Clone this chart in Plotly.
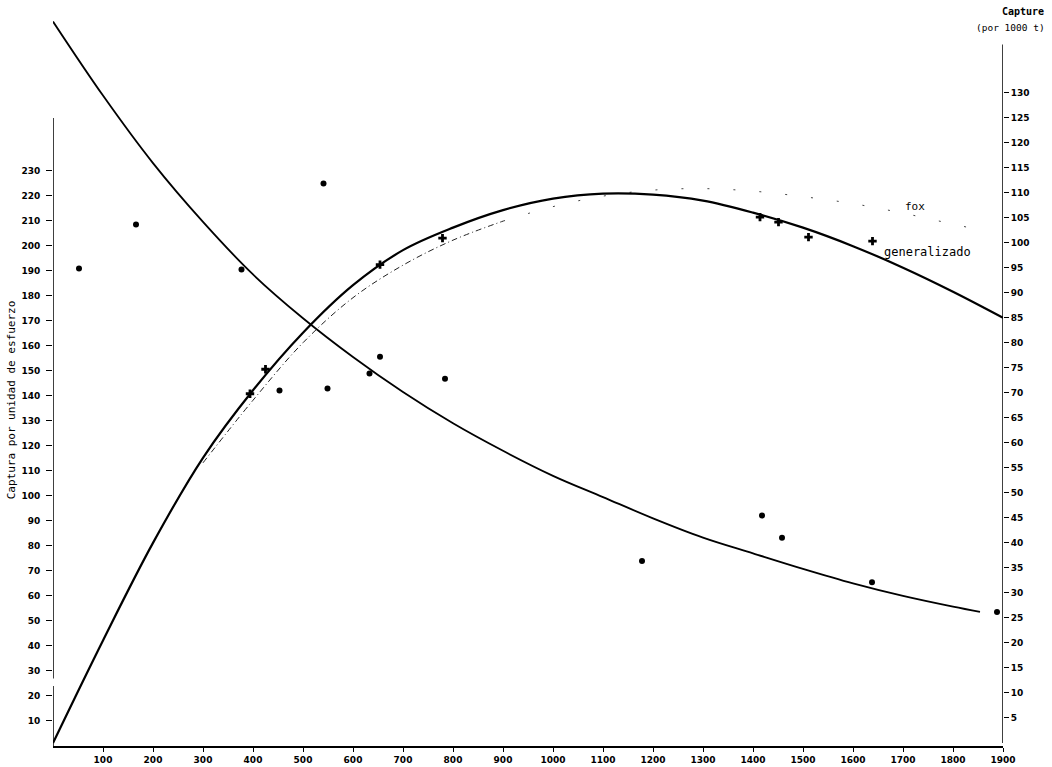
import plotly.graph_objects as go

# ---- data ----
# observed CPUE (dots, left axis)
cpue_obs_x = [52, 166, 377, 453, 541, 549, 633, 654, 784, 1178, 1418, 1458, 1638, 1888]
cpue_obs_y = [190.9, 208.5, 190.5, 142.1, 224.8, 142.9, 148.9, 155.6, 146.8, 73.9, 92.1, 83.2, 65.5, 53.6]

# observed catch (crosses, right axis)
catch_obs_x = [394, 425, 654, 779, 1414, 1451, 1511, 1639]
catch_obs_y = [69.8, 74.7, 95.6, 100.9, 105.1, 104.1, 101.1, 100.3]

# fitted CPUE curve (left axis)
cpue_fit_x = [0, 100, 200, 300, 400, 500, 600, 700, 800, 900, 1000, 1100, 1200, 1300,
              1400, 1500, 1600, 1700, 1800, 1854]
cpue_fit_y = [289.6, 260, 233, 209.5, 188.5, 171, 155.5, 141.5, 129, 118, 108, 99.5, 91, 83.3,
              77, 70.8, 65, 60, 55.7, 53.6]

# generalized production curve (right axis)
gen_x = [0, 100, 200, 300, 400, 500, 600, 700, 800, 900, 1000, 1100, 1200, 1300,
         1400, 1500, 1600, 1700, 1800, 1900]
gen_y = [0, 20.5, 40, 57, 70.5, 82, 91.5, 98.5, 103, 106.5, 108.8, 109.8, 109.6, 108.4,
         106, 103, 99.3, 95, 90.2, 85]

# Fox production curve (right axis)
fox_x = [0, 100, 200, 300, 400, 500, 600, 700, 800, 900, 1000, 1100, 1200, 1300,
         1400, 1500, 1600, 1700, 1800, 1870]
fox_y = [0, 20.5, 40, 56, 68.5, 80, 89, 95.5, 100.5, 104.3, 107.2, 109.3, 110.5, 110.8,
         110.3, 109.2, 107.8, 105.9, 103.7, 102.2]

x_ticks = list(range(100, 2000, 100))
left_ticks = list(range(10, 240, 10))
right_ticks = list(range(5, 135, 5))

tickfont = dict(family="DejaVu Sans", size=9, color="black", weight="bold")
mono = "DejaVu Sans Mono"

fig = go.Figure()

# Fox curve: dash-dot lower part, sparse dotted upper part
split = 9
fig.add_trace(go.Scatter(x=fox_x[3:split + 1], y=fox_y[3:split + 1], yaxis="y2", mode="lines",
                         line=dict(color="#222", width=1, dash="6px,3px,1px,3px", shape="spline"),
                         hoverinfo="skip", showlegend=False))
fig.add_trace(go.Scatter(x=fox_x[split:], y=fox_y[split:], yaxis="y2", mode="lines",
                         line=dict(color="#444", width=1, dash="2px,24px", shape="spline"),
                         hoverinfo="skip", showlegend=False))

fig.add_trace(go.Scatter(x=gen_x, y=gen_y, yaxis="y2", mode="lines",
                         line=dict(color="black", width=2.2, shape="spline"),
                         showlegend=False))
fig.add_trace(go.Scatter(x=cpue_fit_x, y=cpue_fit_y, mode="lines",
                         line=dict(color="black", width=1.8, shape="spline"),
                         showlegend=False))

fig.add_trace(go.Scatter(x=cpue_obs_x, y=cpue_obs_y, mode="markers",
                         marker=dict(color="black", size=6, symbol="circle"),
                         cliponaxis=False, showlegend=False))
fig.add_trace(go.Scatter(x=catch_obs_x, y=catch_obs_y, yaxis="y2", mode="markers",
                         marker=dict(color="black", size=7, symbol="cross"),
                         cliponaxis=False, showlegend=False))

# axis lines drawn as segments (the left one has a break)
fig.add_shape(type="line", xref="x", yref="y", x0=0, x1=0, y0=0, y1=24,
              line=dict(color="black", width=1.5))
fig.add_shape(type="line", xref="x", yref="y", x0=0, x1=0, y0=27, y1=251,
              line=dict(color="black", width=1.5))
fig.add_shape(type="line", xref="x", yref="y2", x0=1900, x1=1900, y0=0, y1=139.6,
              line=dict(color="black", width=1.5))

fig.update_layout(
    width=1052, height=767,
    margin=dict(l=53, r=49, t=18, b=21, autoexpand=False),
    paper_bgcolor="white", plot_bgcolor="white",
    xaxis=dict(range=[0, 1900], tickvals=x_ticks, ticktext=[str(v) for v in x_ticks],
               showgrid=False, zeroline=False, showline=True, linecolor="black", linewidth=1.5,
               ticks="outside", ticklen=4, tickcolor="black", tickfont=tickfont,
               automargin=False),
    yaxis=dict(range=[0, 291], tickvals=left_ticks, ticktext=[str(v) for v in left_ticks],
               showgrid=False, zeroline=False, showline=False,
               ticks="outside", ticklen=6, tickcolor="black", tickfont=tickfont,
               ticklabelstandoff=4, automargin=False),
    yaxis2=dict(range=[-0.6, 144.9], overlaying="y", side="right",
                tickvals=right_ticks, ticktext=[str(v) for v in right_ticks],
                showgrid=False, zeroline=False, showline=False,
                ticks="outside", ticklen=5, tickcolor="black", tickfont=tickfont,
                automargin=False),
)

fig.add_annotation(text="Captura por unidad de esfuerzo", xref="paper", yref="paper",
                   x=-0.053, y=0.475, textangle=-90, showarrow=False,
                   font=dict(family=mono, size=11, color="black"))
fig.add_annotation(text="Capture", xref="paper", yref="paper", x=1.045, y=1.0195,
                   xanchor="right", yanchor="top", showarrow=False,
                   font=dict(family=mono, size=10, color="black", weight="bold"))
fig.add_annotation(text="(por 1000 t)", xref="paper", yref="paper", x=1.046, y=0.997,
                   xanchor="right", yanchor="top", showarrow=False,
                   font=dict(family=mono, size=9.5, color="black"))
fig.add_annotation(text="fox", x=1724, y=107.2, yref="y2", showarrow=False,
                   font=dict(family=mono, size=11, color="black"))
fig.add_annotation(text="generalizado", x=1658, y=98.2, yref="y2", xanchor="left",
                   showarrow=False, font=dict(family=mono, size=12, color="black"))

fig.write_html("out.html", config={"displayModeBar": False},
               post_script="document.body.style.margin='0';document.body.style.padding='0';")
